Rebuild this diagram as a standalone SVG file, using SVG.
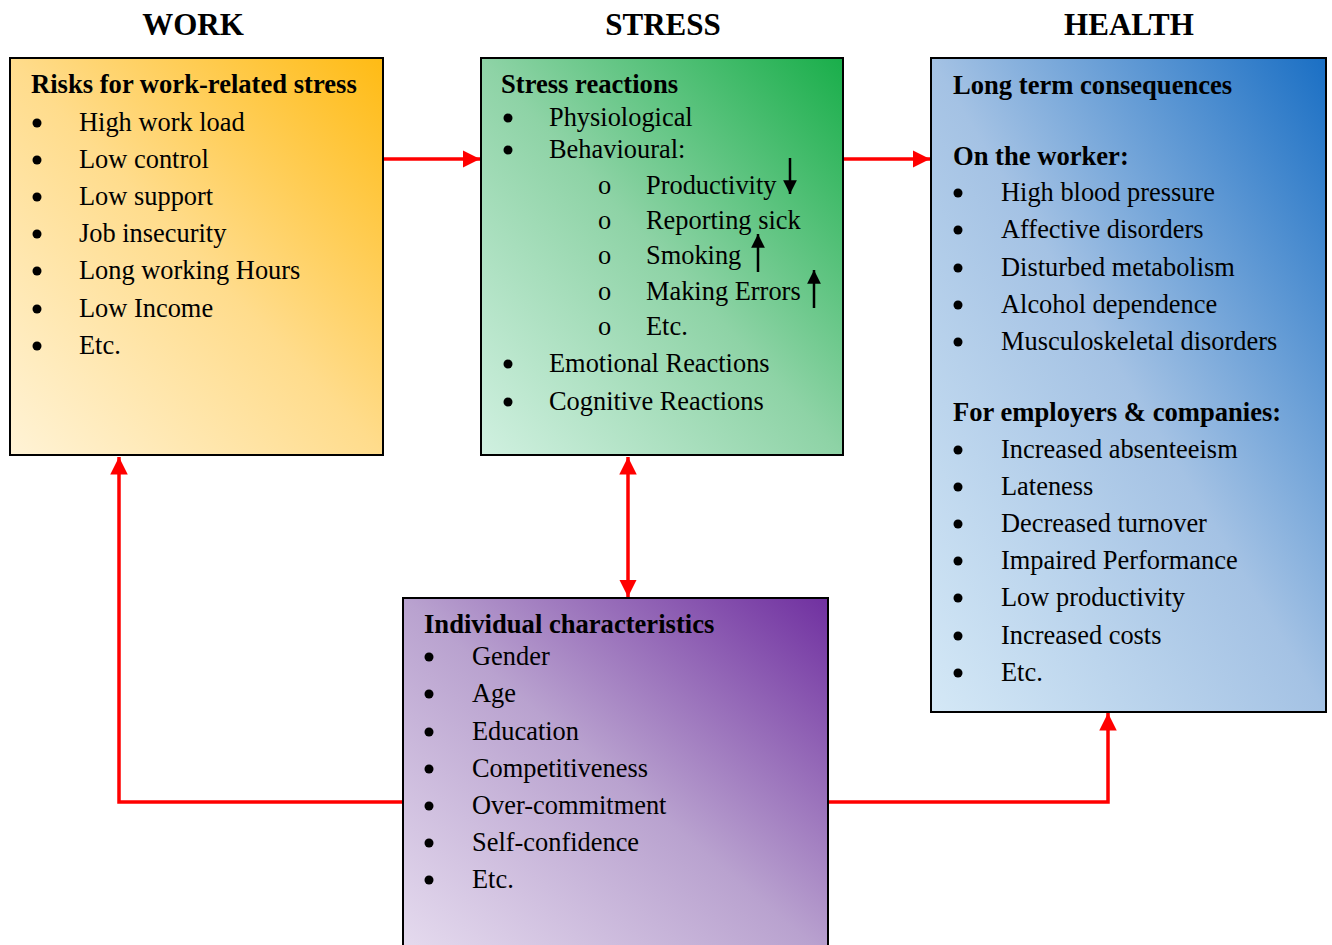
<svg xmlns="http://www.w3.org/2000/svg" width="1332" height="945" viewBox="0 0 1332 945">
<style>
text{font-family:"Liberation Serif","Times New Roman",serif;fill:#000}
.h{font-size:31px;font-weight:bold;text-anchor:middle}
.t{font-size:26.6px;font-weight:bold}
.i{font-size:26.4px}
.box{stroke:#000;stroke-width:2}
.c{fill:none;stroke:#ff0000;stroke-width:3.5}
.k{fill:none;stroke:#000;stroke-width:2.5}
</style>
<defs>
<linearGradient id="gW" x1="0" y1="1" x2="1" y2="0"><stop offset="0" stop-color="#fff3d6"/><stop offset="0.5" stop-color="#ffdc8c"/><stop offset="1" stop-color="#ffbb14"/></linearGradient>
<linearGradient id="gS" x1="0" y1="1" x2="1" y2="0"><stop offset="0" stop-color="#d0f0e0"/><stop offset="0.5" stop-color="#8ed3a6"/><stop offset="1" stop-color="#19ae4a"/></linearGradient>
<linearGradient id="gH" x1="0" y1="1" x2="1" y2="0"><stop offset="0" stop-color="#d4e8f6"/><stop offset="0.5" stop-color="#a4c2e4"/><stop offset="1" stop-color="#1a6fc4"/></linearGradient>
<linearGradient id="gI" x1="0" y1="1" x2="1" y2="0"><stop offset="0" stop-color="#e6dcef"/><stop offset="0.5" stop-color="#b9a2cf"/><stop offset="1" stop-color="#7030a0"/></linearGradient>
<marker id="ar" viewBox="0 0 10 10" refX="10" refY="5" markerWidth="5" markerHeight="5" markerUnits="strokeWidth" orient="auto-start-reverse"><path d="M0,0 L10,5 L0,10 z" fill="#ff0000"/></marker>
<marker id="ak" viewBox="0 0 10 10" refX="10" refY="5" markerWidth="6" markerHeight="5.5" markerUnits="strokeWidth" orient="auto"><path d="M0,0 L10,5 L0,10 z" fill="#000"/></marker>
</defs>

<text class="h" x="193" y="35">WORK</text>
<text class="h" x="663" y="35">STRESS</text>
<text class="h" x="1129" y="35">HEALTH</text>

<g id="connectors">
<path class="c" d="M383,159 H480" marker-end="url(#ar)"/>
<path class="c" d="M843,159 H930" marker-end="url(#ar)"/>
<path class="c" d="M628,457 V597" marker-start="url(#ar)" marker-end="url(#ar)"/>
<path class="c" d="M403,802 H119 V457" marker-end="url(#ar)"/>
<path class="c" d="M828,802 H1108 V713" marker-end="url(#ar)"/>
</g>

<g id="work">
<rect class="box" x="10" y="58" width="373" height="397" fill="url(#gW)"/>
<text class="t" x="31" y="93">Risks for work-related stress</text>
<g fill="#000"><circle cx="37" cy="123" r="4.5"/><circle cx="37" cy="160" r="4.5"/><circle cx="37" cy="197" r="4.5"/><circle cx="37" cy="234" r="4.5"/><circle cx="37" cy="271" r="4.5"/><circle cx="37" cy="309" r="4.5"/><circle cx="37" cy="346" r="4.5"/></g>
<text class="i" x="79" y="131">High work load</text>
<text class="i" x="79" y="168">Low control</text>
<text class="i" x="79" y="205">Low support</text>
<text class="i" x="79" y="242">Job insecurity</text>
<text class="i" x="79" y="279">Long working Hours</text>
<text class="i" x="79" y="317">Low Income</text>
<text class="i" x="79" y="354">Etc.</text>
</g>

<g id="stress">
<rect class="box" x="481" y="58" width="362" height="397" fill="url(#gS)"/>
<text class="t" x="501" y="93">Stress reactions</text>
<g fill="#000"><circle cx="508" cy="118" r="4.5"/><circle cx="508" cy="150" r="4.5"/><circle cx="508" cy="364" r="4.5"/><circle cx="508" cy="402" r="4.5"/></g>
<text class="i" x="549" y="126">Physiological</text>
<text class="i" x="549" y="158">Behavioural:</text>
<text class="i" x="598" y="194">o</text>
<text class="i" x="598" y="229">o</text>
<text class="i" x="598" y="264">o</text>
<text class="i" x="598" y="300">o</text>
<text class="i" x="598" y="335">o</text>
<text class="i" x="646" y="194">Productivity</text>
<text class="i" x="646" y="229">Reporting sick</text>
<text class="i" x="646" y="264">Smoking</text>
<text class="i" x="646" y="300">Making Errors</text>
<text class="i" x="646" y="335">Etc.</text>
<text class="i" x="549" y="372">Emotional Reactions</text>
<text class="i" x="549" y="410">Cognitive Reactions</text>
<path class="k" d="M790,158 V194" marker-end="url(#ak)"/>
<path class="k" d="M758,272 V234" marker-end="url(#ak)"/>
<path class="k" d="M814,308 V270" marker-end="url(#ak)"/>
</g>

<g id="health">
<rect class="box" x="931" y="58" width="395" height="654" fill="url(#gH)"/>
<text class="t" x="953" y="94">Long term consequences</text>
<text class="t" x="953" y="165">On the worker:</text>
<text class="t" x="953" y="421">For employers &amp; companies:</text>
<g fill="#000"><circle cx="958" cy="193" r="4.5"/><circle cx="958" cy="230" r="4.5"/><circle cx="958" cy="268" r="4.5"/><circle cx="958" cy="305" r="4.5"/><circle cx="958" cy="342" r="4.5"/><circle cx="958" cy="450" r="4.5"/><circle cx="958" cy="487" r="4.5"/><circle cx="958" cy="524" r="4.5"/><circle cx="958" cy="561" r="4.5"/><circle cx="958" cy="598" r="4.5"/><circle cx="958" cy="636" r="4.5"/><circle cx="958" cy="673" r="4.5"/></g>
<text class="i" x="1001" y="201">High blood pressure</text>
<text class="i" x="1001" y="238">Affective disorders</text>
<text class="i" x="1001" y="276">Disturbed metabolism</text>
<text class="i" x="1001" y="313">Alcohol dependence</text>
<text class="i" x="1001" y="350">Musculoskeletal disorders</text>
<text class="i" x="1001" y="458">Increased absenteeism</text>
<text class="i" x="1001" y="495">Lateness</text>
<text class="i" x="1001" y="532">Decreased turnover</text>
<text class="i" x="1001" y="569">Impaired Performance</text>
<text class="i" x="1001" y="606">Low productivity</text>
<text class="i" x="1001" y="644">Increased costs</text>
<text class="i" x="1001" y="681">Etc.</text>
</g>

<g id="individual">
<rect class="box" x="403" y="598" width="425" height="360" fill="url(#gI)"/>
<text class="t" x="424" y="633">Individual characteristics</text>
<g fill="#000"><circle cx="429" cy="657" r="4.5"/><circle cx="429" cy="694" r="4.5"/><circle cx="429" cy="732" r="4.5"/><circle cx="429" cy="769" r="4.5"/><circle cx="429" cy="806" r="4.5"/><circle cx="429" cy="843" r="4.5"/><circle cx="429" cy="880" r="4.5"/></g>
<text class="i" x="472" y="665">Gender</text>
<text class="i" x="472" y="702">Age</text>
<text class="i" x="472" y="740">Education</text>
<text class="i" x="472" y="777">Competitiveness</text>
<text class="i" x="472" y="814">Over-commitment</text>
<text class="i" x="472" y="851">Self-confidence</text>
<text class="i" x="472" y="888">Etc.</text>
</g>
</svg>
